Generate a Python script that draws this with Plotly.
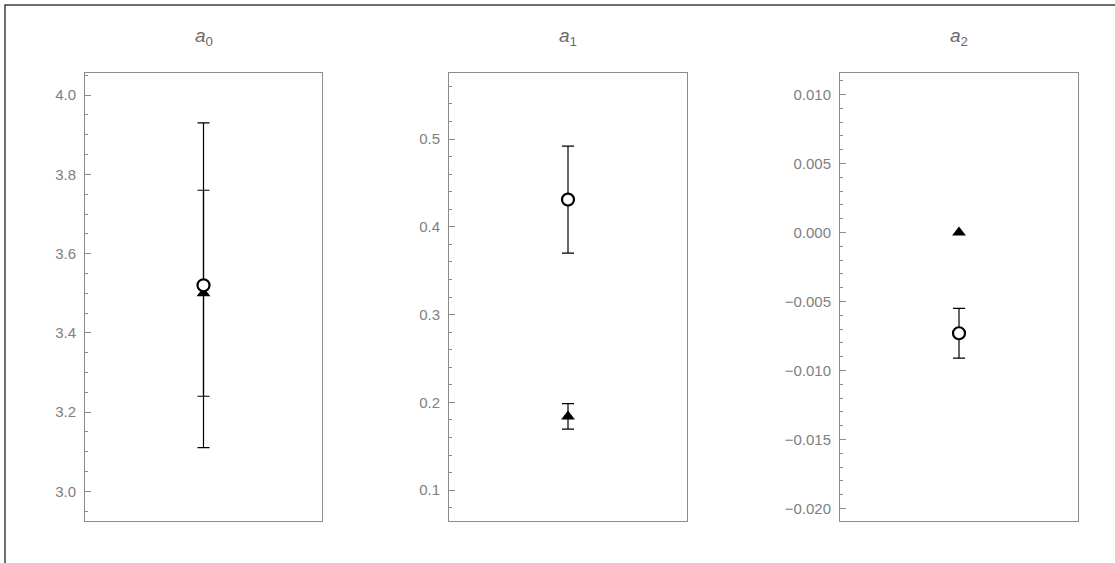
import plotly.graph_objects as go

# ---- data ----
panel_titles = ["<i>a</i><sub>0</sub>", "<i>a</i><sub>1</sub>", "<i>a</i><sub>2</sub>"]
circle_vals = [3.52, 0.431, -0.0073]
circle_errs = [0.41, 0.061, 0.0018]
tri_vals = [3.50, 0.184, 0.0]
tri_errs = [0.26, 0.0145, 0.0]

# ---- axis settings ----
y_ranges = [[2.925, 4.056], [0.0649, 0.5752], [-0.0209, 0.01155]]
y_dtick = [0.2, 0.1, 0.005]
y_minor = [0.05, 0.02, 0.001]
y_fmt = [".1f", ".1f", ".3f"]

W, H = 1115, 563
x_px = [(85, 322), (449, 687), (840, 1078)]
y_px = (73, 521)

fig = go.Figure()

TEXT = "#808080"
FRAME = "#8c8c8c"

for i in range(3):
    xa = "x" if i == 0 else f"x{i+1}"
    ya = "y" if i == 0 else f"y{i+1}"
    # triangle series
    fig.add_trace(go.Scatter(
        x=[0], y=[tri_vals[i]], mode="markers", xaxis=xa, yaxis=ya,
        marker=dict(symbol="triangle-up", size=12, color="black", line=dict(width=0)),
        error_y=dict(type="data", array=[tri_errs[i]], color="black", thickness=1.2, width=6,
                     visible=tri_errs[i] > 0),
        showlegend=False, cliponaxis=False))
    # circle series
    fig.add_trace(go.Scatter(
        x=[0], y=[circle_vals[i]], mode="markers", xaxis=xa, yaxis=ya,
        marker=dict(symbol="circle", size=12, color="white", line=dict(width=2.2, color="black")),
        error_y=dict(type="data", array=[circle_errs[i]], color="black", thickness=1.2, width=6),
        showlegend=False, cliponaxis=False))

    x0, x1 = x_px[i]
    xdom = [x0 / W, x1 / W]
    ydom = [1 - y_px[1] / H, 1 - y_px[0] / H]
    xkey = "xaxis" if i == 0 else f"xaxis{i+1}"
    ykey = "yaxis" if i == 0 else f"yaxis{i+1}"
    fig.layout[xkey] = dict(domain=xdom, range=[-1, 1], showticklabels=False, ticks="",
                            showgrid=False, zeroline=False, showline=True, mirror=True,
                            linecolor=FRAME, linewidth=1, anchor=ya, fixedrange=True)
    fig.layout[ykey] = dict(domain=ydom, range=y_ranges[i], showgrid=False, zeroline=False,
                            showline=True, mirror=True, linecolor=FRAME, linewidth=1,
                            anchor=xa, ticks="inside", ticklen=6, tickcolor=FRAME, tickwidth=1,
                            dtick=y_dtick[i], tick0=0, tickformat=y_fmt[i],
                            tickfont=dict(family="Liberation Sans, Arial", size=15, color=TEXT),
                            ticklabelstandoff=5,
                            minor=dict(ticks="inside", ticklen=3, dtick=y_minor[i], tick0=0,
                                       tickcolor=FRAME, tickwidth=1, showgrid=False))
    fig.add_annotation(x=(xdom[0] + xdom[1]) / 2, y=1 - 37 / H, xref="paper", yref="paper",
                       text=panel_titles[i], showarrow=False, xanchor="center", yanchor="middle",
                       font=dict(family="Liberation Sans, Arial", size=19, color="#6a6a6a"))

# outer frame (cut by the image edge at right and bottom)
fig.add_shape(type="rect", xref="paper", yref="paper",
              x0=5 / W, y0=-0.1, x1=1.1, y1=1 - 5 / H,
              line=dict(color="#404040", width=1.5), fillcolor="rgba(0,0,0,0)", layer="above")

fig.update_layout(width=W, height=H, margin=dict(l=0, r=0, t=0, b=0),
                  paper_bgcolor="white", plot_bgcolor="white", showlegend=False)

fig.write_html("out.html", config={"displayModeBar": False, "staticPlot": True},
               post_script="document.body.style.margin='0';document.body.style.overflow='hidden';")
